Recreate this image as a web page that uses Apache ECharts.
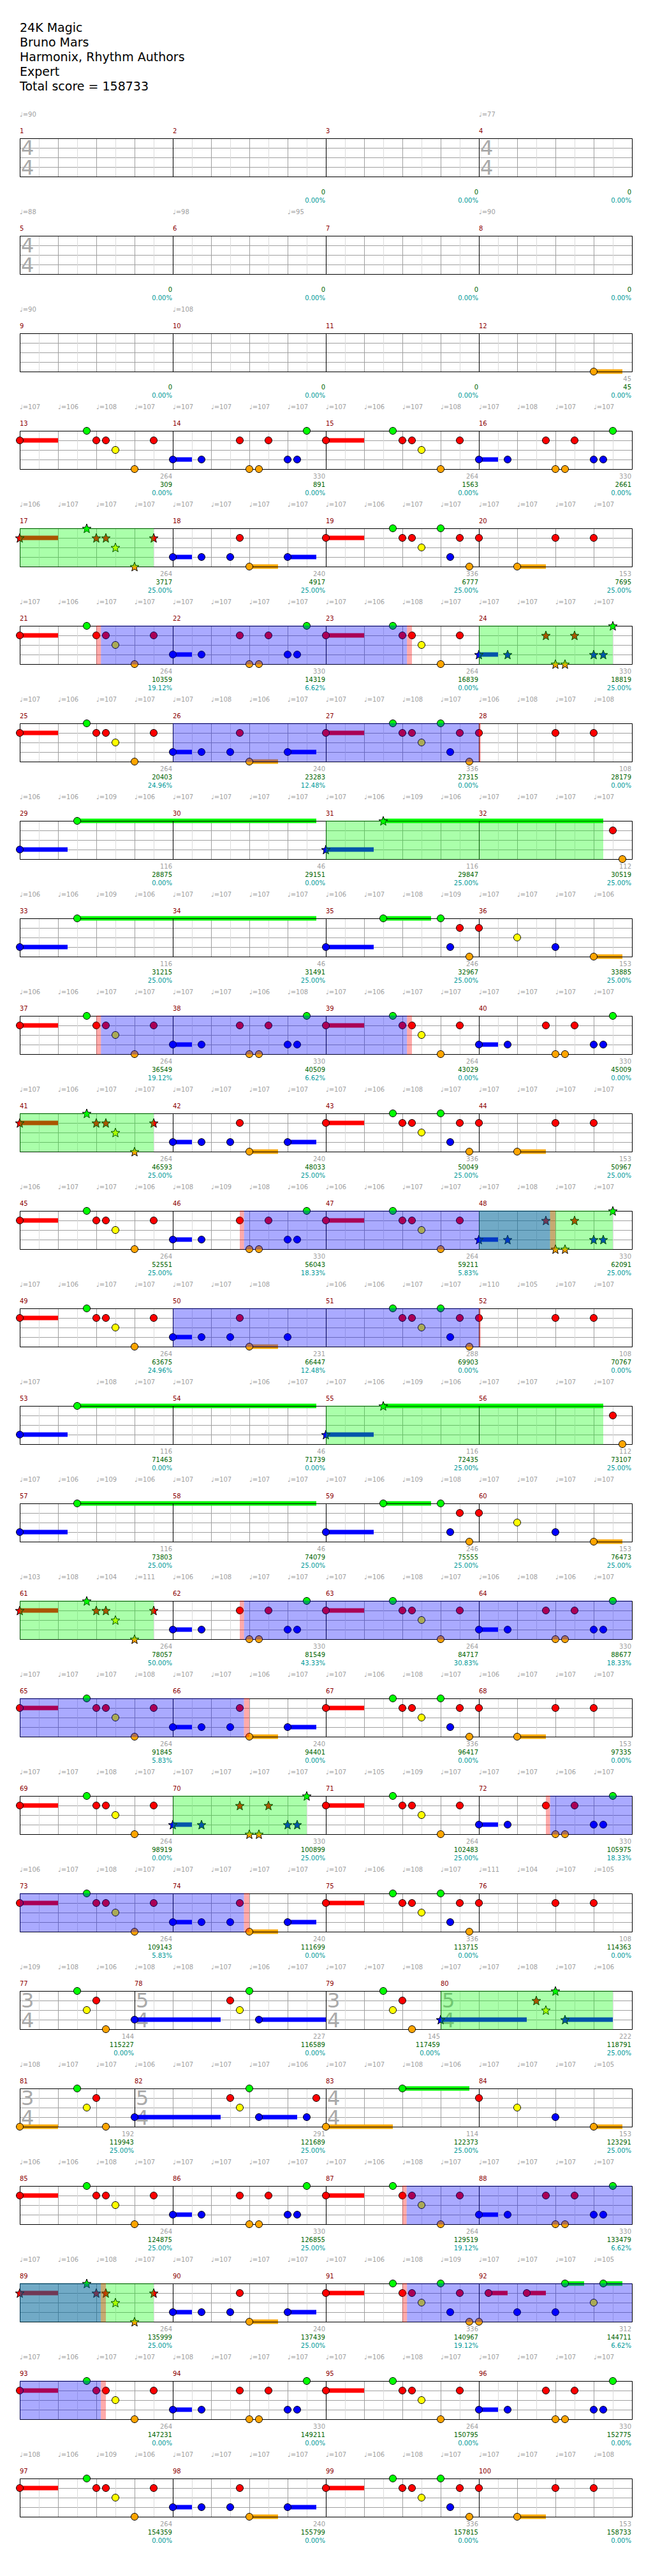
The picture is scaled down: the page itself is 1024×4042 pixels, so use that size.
<!DOCTYPE html>
<html><head><meta charset="utf-8">
<script src="https://cdn.jsdelivr.net/npm/echarts@6/dist/echarts.min.js"></script>
<style>html,body{margin:0;padding:0;background:#fff}#c{width:1024px;height:4042px}</style>
</head><body><div id="c"></div>
<script>
// ---------------- DATA ----------------
const songInfo = ["24K Magic", "Bruno Mars", "Harmonix, Rhythm Authors", "Expert", "Total score = 158733"];

// measures whose length is not 4 beats
const oddMeasureLengths = [[77,3],[78,5],[79,3],[80,5],[81,3],[82,5]];
// time signature marks [measure, top, bottom]
const timeSignatures = [[1,4,4],[4,4,4],[5,4,4],[77,3,4],[78,5,4],[79,3,4],[80,5,4],[81,3,4],[82,5,4],[83,4,4]];

// notes per measure (index 0 = measure 1): lane + beat, "-end" = sustain end beat
const measureNotes = [
 "","","","","","","","","","","","O3-3.75",
 "R0-1 G1.75 R2 R2.25 Y2.5 O3 R3.5",
 "B0-0.5 B0.75 R1.75 O2 O2.25 R2.5 B3 B3.25 G3.5",
 "R0-1 G1.75 R2 R2.25 Y2.5 O3 R3.5",
 "B0-0.5 B0.75 R1.75 O2 O2.25 R2.5 B3 B3.25 G3.5",
 "R0-1 G1.75 R2 R2.25 Y2.5 O3 R3.5",
 "B0-0.5 B0.75 B1.5 R1.75 O2-2.75 B3-3.75",
 "R0-1 G1.75 R2 R2.25 Y2.5 G3 B3.25 R3.5 O3.75",
 "R0 O1-1.75 R2 R3",
 "R0-1 G1.75 R2 R2.25 Y2.5 O3 R3.5",
 "B0-0.5 B0.75 R1.75 O2 O2.25 R2.5 B3 B3.25 G3.5",
 "R0-1 G1.75 R2 R2.25 Y2.5 O3 R3.5",
 "B0-0.5 B0.75 R1.75 O2 O2.25 R2.5 B3 B3.25 G3.5",
 "R0-1 G1.75 R2 R2.25 Y2.5 O3 R3.5",
 "B0-0.5 B0.75 B1.5 R1.75 O2-2.75 B3-3.75",
 "R0-1 G1.75 R2 R2.25 Y2.5 G3 B3.25 R3.5 O3.75",
 "R0 R2 R3",
 "B0-1.25 G1.5-7.75",
 "",
 "B0-1.25 G1.5-7.25",
 "R3.5 O3.75",
 "B0-1.25 G1.5-7.75",
 "",
 "B0-1.25 G1.5-2.75 G3 B3.25 R3.5 O3.75",
 "R0 Y1 B2 O3-3.75",
 "R0-1 G1.75 R2 R2.25 Y2.5 O3 R3.5",
 "B0-0.5 B0.75 R1.75 O2 O2.25 R2.5 B3 B3.25 G3.5",
 "R0-1 G1.75 R2 R2.25 Y2.5 O3 R3.5",
 "B0-0.5 B0.75 R1.75 O2 O2.25 R2.5 B3 B3.25 G3.5",
 "R0-1 G1.75 R2 R2.25 Y2.5 O3 R3.5",
 "B0-0.5 B0.75 B1.5 R1.75 O2-2.75 B3-3.75",
 "R0-1 G1.75 R2 R2.25 Y2.5 G3 B3.25 R3.5 O3.75",
 "R0 O1-1.75 R2 R3",
 "R0-1 G1.75 R2 R2.25 Y2.5 O3 R3.5",
 "B0-0.5 B0.75 R1.75 O2 O2.25 R2.5 B3 B3.25 G3.5",
 "R0-1 G1.75 R2 R2.25 Y2.5 O3 R3.5",
 "B0-0.5 B0.75 R1.75 O2 O2.25 R2.5 B3 B3.25 G3.5",
 "R0-1 G1.75 R2 R2.25 Y2.5 O3 R3.5",
 "B0-0.5 B0.75 B1.5 R1.75 O2-2.75 B3",
 "G1.75 R2 R2.25 Y2.5 G3 B3.25 R3.5 O3.75",
 "R0 R2 R3",
 "B0-1.25 G1.5-7.75",
 "",
 "B0-1.25 G1.5-7.25",
 "R3.5 O3.75",
 "B0-1.25 G1.5-7.75",
 "",
 "B0-1.25 G1.5-2.75 G3 B3.25 R3.5 O3.75",
 "R0 Y1 B2 O3-3.75",
 "R0-1 G1.75 R2 R2.25 Y2.5 O3 R3.5",
 "B0-0.5 B0.75 R1.75 O2 O2.25 R2.5 B3 B3.25 G3.5",
 "R0-1 G1.75 R2 R2.25 Y2.5 O3 R3.5",
 "B0-0.5 B0.75 R1.75 O2 O2.25 R2.5 B3 B3.25 G3.5",
 "R0-1 G1.75 R2 R2.25 Y2.5 O3 R3.5",
 "B0-0.5 B0.75 B1.5 R1.75 O2-2.75 B3-3.75",
 "R0-1 G1.75 R2 R2.25 Y2.5 G3 B3.25 R3.5 O3.75",
 "R0 O1-1.75 R2 R3",
 "R0-1 G1.75 R2 R2.25 Y2.5 O3 R3.5",
 "B0-0.5 B0.75 R1.75 O2 O2.25 R2.5 B3 B3.25 G3.5",
 "R0-1 G1.75 R2 R2.25 Y2.5 O3 R3.5",
 "B0-0.5 B0.75 R1.75 O2 O2.25 R2.5 B3 B3.25 G3.5",
 "R0-1 G1.75 R2 R2.25 Y2.5 O3 R3.5",
 "B0-0.5 B0.75 B1.5 R1.75 O2-2.75 B3-3.75",
 "R0-1 G1.75 R2 R2.25 Y2.5 G3 B3.25 R3.5 O3.75",
 "R0 R2 R3",
 "G1.5 Y1.75 R2 O2.25",
 "B0-2.25 R2.5 Y2.75 G3 B3.25-5",
 "G1.5 Y1.75 R2 O2.25",
 "B0-2.25 R2.5 Y2.75 G3 B3.25-4.5",
 "O0-1 G1.5 Y1.75 R2 O2.25",
 "B0-2.25 R2.5 Y2.75 G3 B3.25-4.25 B4.5 R4.75",
 "O0-1.75 G2-3.75",
 "R0 Y1 B2 O3-3.75",
 "R0-1 G1.75 R2 R2.25 Y2.5 O3 R3.5",
 "B0-0.5 B0.75 R1.75 O2 O2.25 R2.5 B3 B3.25 G3.5",
 "R0-1 G1.75 R2 R2.25 Y2.5 O3 R3.5",
 "B0-0.5 B0.75 R1.75 O2 O2.25 R2.5 B3 B3.25 G3.5",
 "R0-1 G1.75 R2 R2.25 Y2.5 O3 R3.5",
 "B0-0.5 B0.75 B1.5 R1.75 O2-2.75 B3-3.75",
 "R0-1 G1.75 R2 R2.25 Y2.5 G3 B3.25 R3.5 O3.75",
 "O0 R0.25-0.75 B1 R1.25-1.75 B2 G2.25-2.75 Y3 G3.25-3.75",
 "R0-1 G1.75 R2 R2.25 Y2.5 O3 R3.5",
 "B0-0.5 B0.75 R1.75 O2 O2.25 R2.5 B3 B3.25 G3.5",
 "R0-1 G1.75 R2 R2.25 Y2.5 O3 R3.5",
 "B0-0.5 B0.75 R1.75 O2 O2.25 R2.5 B3 B3.25 G3.5",
 "R0-1 G1.75 R2 R2.25 Y2.5 O3 R3.5",
 "B0-0.5 B0.75 B1.5 R1.75 O2-2.75 B3-3.75",
 "R0-1 G1.75 R2 R2.25 Y2.5 G3 B3.25 R3.5 O3.75",
 "R0 O1-1.75 R2 R3"
];

// overdrive phrases [startMeasure, beat, endMeasure, beat]
const overdrivePhrases = [[17,0,17,3.5],[24,0,24,3.5],[31,0,32,3.25],[41,0,41,3.5],[48,0,48,3.5],
  [55,0,56,3.25],[61,0,61,3.5],[70,0,70,3.5],[80,0,80,4.5],[89,0,89,3.5]];
// activation (blue) regions
const activationRegions = [[21,2.12,23,2.12],[26,0,28,0],[37,2.12,39,2.12],[46,1.86,48,1.86],[50,0,52,0],
  [62,1.86,66,1.86],[72,1.86,74,1.86],[87,2.11,89,2.12],[91,2.12,93,2.12]];
// red activation markers
const activationMarks = [[21,2,21,2.12],[23,2.12,23,2.25],[28,0,28,0.05],[37,2,37,2.12],[39,2.12,39,2.25],
  [46,1.75,46,1.86],[48,1.86,48,2],[52,0,52,0.05],[62,1.75,62,1.86],[66,1.86,66,2],[72,1.75,72,1.86],
  [74,1.86,74,2],[87,2,87,2.11],[89,2.12,89,2.25],[91,2,91,2.12],[93,2.12,93,2.25]];

// tempo marks per row, one slot per beat
const tempoRows = [
 [90,null,null,null,null,null,null,null,null,null,null,null,77,null,null,null],
 [88,null,null,null,98,null,null,95,null,null,null,null,90,null,null,null],
 [90,null,null,null,108,null,null,null,null,null,null,null,null,null,null,null],
 [107,106,108,107,107,107,107,107,107,106,107,108,107,108,107,107],
 [106,107,107,107,107,107,107,107,107,106,107,107,107,107,107,107],
 [107,106,107,107,107,107,107,107,107,106,108,107,107,107,107,107],
 [107,106,107,107,107,108,106,107,107,107,108,107,106,108,107,108],
 [106,106,109,106,107,107,107,107,107,106,109,106,107,107,107,107],
 [106,106,109,106,107,107,107,107,106,107,108,109,107,107,107,106],
 [106,106,107,107,107,107,106,108,107,106,107,107,107,107,107,107],
 [107,106,107,107,107,107,107,107,107,106,108,107,107,107,107,107],
 [106,107,107,106,108,109,108,106,106,106,107,107,107,108,107,107],
 [107,106,107,107,107,107,108,null,106,106,107,107,110,105,107,107],
 [107,null,108,107,107,null,106,107,107,106,109,106,107,107,107,107],
 [107,106,109,106,107,107,107,107,107,106,109,108,107,107,107,107],
 [103,108,104,111,106,108,107,107,107,106,108,107,106,108,106,107],
 [107,107,107,108,107,107,106,107,107,106,108,107,106,107,107,107],
 [107,107,108,107,107,107,107,107,107,105,109,107,107,107,106,107],
 [106,107,108,107,107,107,107,107,107,106,108,107,111,104,107,105],
 [109,108,106,108,108,107,106,107,107,107,108,107,107,108,107,106],
 [108,107,107,106,107,107,107,106,107,107,108,106,107,107,107,105],
 [106,106,108,107,107,107,107,107,107,106,108,107,107,107,107,107],
 [107,106,108,107,107,107,107,107,107,106,108,109,107,107,107,105],
 [107,106,107,107,108,107,107,107,107,106,108,107,107,107,107,107],
 [108,106,109,106,107,107,107,107,107,106,108,107,107,107,107,108]
];

// labels under each measure (index 0 = measure 1)
const measureNoteScores = [
 null,null,null,null,null,null,null,null,null,null,null,45,
 264,330,264,330, 264,240,336,153, 264,330,264,330, 264,240,336,108,
 116,46,116,112, 116,46,246,153, 264,330,264,330, 264,240,336,153,
 264,330,264,330, 264,231,288,108, 116,46,116,112, 116,46,246,153,
 264,330,264,330, 264,240,336,153, 264,330,264,330, 264,240,336,108,
 144,227,145,222, 192,291,114,153, 264,330,264,330, 264,240,336,312,
 264,330,264,330, 264,240,336,153
];
const runningScores = [
 null,0,0,0,0,0,0,0,0,0,0,45,
 309,891,1563,2661, 3717,4917,6777,7695, 10359,14319,16839,18819, 20403,23283,27315,28179,
 28875,29151,29847,30519, 31215,31491,32967,33885, 36549,40509,43029,45009, 46593,48033,50049,50967,
 52551,56043,59211,62091, 63675,66447,69903,70767, 71463,71739,72435,73107, 73803,74079,75555,76473,
 78057,81549,84717,88677, 91845,94401,96417,97335, 98919,100899,102483,105975, 109143,111699,113715,114363,
 115227,116589,117459,118791, 119943,121689,122373,123291, 124875,126855,129519,133479,
 135999,137439,140967,144711, 147231,149211,150795,152775, 154359,155799,157815,158733
];
const overdrivePercents = [
 null,"0.00%","0.00%","0.00%","0.00%","0.00%","0.00%","0.00%","0.00%","0.00%","0.00%","0.00%",
 "0.00%","0.00%","0.00%","0.00%", "25.00%","25.00%","25.00%","25.00%",
 "19.12%","6.62%","0.00%","25.00%", "24.96%","12.48%","0.00%","0.00%",
 "0.00%","0.00%","25.00%","25.00%", "25.00%","25.00%","25.00%","25.00%",
 "19.12%","6.62%","0.00%","0.00%", "25.00%","25.00%","25.00%","25.00%",
 "25.00%","18.33%","5.83%","25.00%", "24.96%","12.48%","0.00%","0.00%",
 "0.00%","0.00%","25.00%","25.00%", "25.00%","25.00%","25.00%","25.00%",
 "50.00%","43.33%","30.83%","18.33%", "5.83%","0.00%","0.00%","0.00%",
 "0.00%","25.00%","25.00%","18.33%", "5.83%","0.00%","0.00%","0.00%",
 "0.00%","0.00%","0.00%","25.00%", "25.00%","25.00%","25.00%","25.00%",
 "25.00%","25.00%","19.12%","6.62%", "25.00%","25.00%","19.12%","6.62%",
 "0.00%","0.00%","0.00%","0.00%", "0.00%","0.00%","0.00%","0.00%"
];

// ---------------- BUILD ----------------
const ROWS = 25, BEATS_PER_ROW = 16;
const LANE = {G:0, R:1, Y:2, B:3, O:4};
const LANE_COLOR = ['#00ff00', '#ff0000', '#ffff00', '#0000ff', '#ffa500'];
const OVERLAY = ['rgba(0,255,0,0.333)', 'rgba(0,0,255,0.333)', 'rgba(255,0,0,0.333)'];
const STAR = 'path://M0,-10 L2.6,-3.3 L9.51,-3.09 L4,1.3 L5.88,8.09 L0,4.2 L-5.88,8.09 L-4,1.3 L-9.51,-3.09 L-2.6,-3.3 Z';
const FONT = "'DejaVu Sans', 'Liberation Sans', sans-serif";

function lenOf(m) { const f = oddMeasureLengths.find(e => e[0] === m); return f ? f[1] : 4; }
const mStart = {}; let acc = 0;
for (let m = 1; m <= 100; m++) { mStart[m] = acc; acc += lenOf(m); }

const rows = Array.from({length: ROWS}, () => ({notes: [], sus: [], ov: [], frame: [], text: [], sig: []}));
function rowOf(g) { return Math.floor(g / BEATS_PER_ROW + 1e-9); }
function addSpan(key, g0, g1, extra) {
  const r0 = rowOf(g0), r1 = Math.floor((g1 - 1e-9) / BEATS_PER_ROW);
  for (let r = r0; r <= r1; r++) {
    const a = Math.max(g0, 16 * r) - 16 * r, b = Math.min(g1, 16 * r + 16) - 16 * r;
    rows[r][key].push([a, b].concat(extra));
  }
}
const odGlobal = overdrivePhrases.map(p => [mStart[p[0]] + p[1], mStart[p[2]] + p[3]]);

measureNotes.forEach((s, i) => {
  const m = i + 1;
  if (!s) return;
  s.trim().split(/\s+/).forEach(tok => {
    const mm = tok.match(/^([GRYBO])([\d.]+)(?:-([\d.]+))?$/);
    const lane = LANE[mm[1]], g = mStart[m] + parseFloat(mm[2]);
    const star = odGlobal.some(([a, b]) => g >= a - 1e-6 && g <= b + 1e-6);
    const r = rowOf(g);
    rows[r].notes.push({value: [g - 16 * r, lane], symbol: star ? STAR : 'circle',
      symbolSize: star ? 14 : 11, itemStyle: {color: LANE_COLOR[lane]}});
    if (mm[3] !== undefined) addSpan('sus', g, mStart[m] + parseFloat(mm[3]), [lane]);
  });
});
overdrivePhrases.forEach(p => addSpan('ov', mStart[p[0]] + p[1], mStart[p[2]] + p[3], [0]));
activationRegions.forEach(p => addSpan('ov', mStart[p[0]] + p[1], mStart[p[2]] + p[3], [1]));
activationMarks.forEach(p => addSpan('ov', mStart[p[0]] + p[1], mStart[p[2]] + p[3], [2]));

for (let r = 0; r < ROWS; r++) {
  const R = rows[r];
  R.frame.push([0, 0, 16, 0], [0, 4, 16, 4], [16, 0, 16, 4]);
  tempoRows[r].forEach((v, k) => { if (v != null) R.text.push({x: k, y: -2.47, t: '\u2669=' + v, c: '#a0a0a0', s: 10, a: 'left', dx: 0}); });
}
for (let m = 1; m <= 100; m++) {
  const r = rowOf(mStart[m]), x0 = mStart[m] - 16 * r, x1 = x0 + lenOf(m), R = rows[r];
  R.frame.push([x0, 0, x0, 4]);
  R.text.push({x: x0, y: -0.75, t: String(m), c: '#8b0000', s: 10, a: 'left', dx: 0});
  const i = m - 1;
  if (measureNoteScores[i] != null) R.text.push({x: x1, y: 4.78, t: String(measureNoteScores[i]), c: '#a0a0a0', s: 10, a: 'right', dx: -1});
  if (runningScores[i] != null) R.text.push({x: x1, y: 5.65, t: String(runningScores[i]), c: '#006400', s: 10, a: 'right', dx: -1});
  if (overdrivePercents[i] != null) R.text.push({x: x1, y: 6.53, t: overdrivePercents[i], c: '#009999', s: 10, a: 'right', dx: -1});
}
timeSignatures.forEach(([m, top, bot]) => {
  const r = rowOf(mStart[m]), x0 = mStart[m] - 16 * r;
  rows[r].sig.push({x: x0, y: 1.0, t: String(top)}, {x: x0, y: 3.05, t: String(bot)});
});

// ---------------- OPTION ----------------
const grids = [], xAxes = [], yAxes = [], series = [];
const crisp = v => Math.round(v) + 0.5;
for (let r = 0; r < ROWS; r++) {
  const R = rows[r];
  grids.push({left: 31, top: 217 + 153 * r, width: 960, height: 60, show: false});
  xAxes.push({gridIndex: r, type: 'value', min: 0, max: 16, interval: 1,
    axisLine: {show: false}, axisTick: {show: false}, axisLabel: {show: false},
    splitLine: {show: true, lineStyle: {color: '#a0a0a0', width: 1}},
    minorTick: {show: false, splitNumber: 2},
    minorSplitLine: {show: true, lineStyle: {color: '#dcdcdc', width: 1}}});
  yAxes.push({gridIndex: r, type: 'value', min: 0, max: 4, interval: 1, inverse: true,
    axisLine: {show: false}, axisTick: {show: false}, axisLabel: {show: false},
    splitLine: {show: true, lineStyle: {color: '#a0a0a0', width: 1}}});
  const ax = {xAxisIndex: r, yAxisIndex: r};
  series.push(Object.assign({type: 'custom', z: 1, silent: true, data: R.sig.map(d => [d.x, d.y]),
    renderItem: (p, api) => {
      const d = R.sig[p.dataIndex], c = api.coord([api.value(0), api.value(1)]);
      return {type: 'text', x: c[0] + 2, y: c[1], style: {text: d.t, fill: '#aaaaaa', font: '32px ' + FONT, align: 'left', verticalAlign: 'middle'}};
    }}, ax));
  series.push(Object.assign({type: 'custom', z: 2, silent: true, data: R.sus,
    renderItem: (p, api) => {
      const a = api.coord([api.value(0), api.value(2)]), b = api.coord([api.value(1), api.value(2)]);
      return {type: 'rect', shape: {x: a[0], y: a[1] - 3.5, width: b[0] - a[0], height: 7},
        style: {fill: LANE_COLOR[api.value(2)]}};
    }}, ax));
  series.push(Object.assign({type: 'custom', z: 2, silent: true, data: R.frame,
    renderItem: (p, api) => {
      const a = api.coord([api.value(0), api.value(1)]), b = api.coord([api.value(2), api.value(3)]);
      return {type: 'line', shape: {x1: crisp(a[0]), y1: crisp(a[1]), x2: crisp(b[0]), y2: crisp(b[1])},
        style: {stroke: '#000', lineWidth: 1}};
    }}, ax));
  series.push(Object.assign({type: 'scatter', z: 3, silent: true, clip: false, data: R.notes,
    itemStyle: {borderColor: '#000', borderWidth: 1, opacity: 1}}, ax));
  series.push(Object.assign({type: 'custom', z: 4, silent: true, data: R.ov,
    renderItem: (p, api) => {
      const a = api.coord([api.value(0), 0]), b = api.coord([api.value(1), 4]);
      return {type: 'rect', shape: {x: a[0], y: a[1] - 0.5, width: b[0] - a[0], height: b[1] - a[1] + 1},
        style: {fill: OVERLAY[api.value(2)]}};
    }}, ax));
  series.push(Object.assign({type: 'custom', z: 5, silent: true, data: R.text.map(d => [d.x, d.y]),
    renderItem: (p, api) => {
      const d = R.text[p.dataIndex], c = api.coord([api.value(0), api.value(1)]);
      return {type: 'text', x: c[0] + d.dx, y: c[1], style: {text: d.t, fill: d.c, font: d.s + 'px ' + FONT, align: d.a, verticalAlign: 'middle'}};
    }}, ax));
}

const chart = echarts.init(document.getElementById('c'), null, {renderer: 'svg', width: 1024, height: 4042});
chart.setOption({
  animation: false,
  backgroundColor: '#ffffff',
  title: {text: songInfo.join('\n'), left: 31, top: 31, padding: 0,
    textStyle: {fontSize: 19, fontWeight: 'normal', fontFamily: FONT, color: '#000', lineHeight: 23}},
  grid: grids, xAxis: xAxes, yAxis: yAxes, series: series
});
</script></body></html>
